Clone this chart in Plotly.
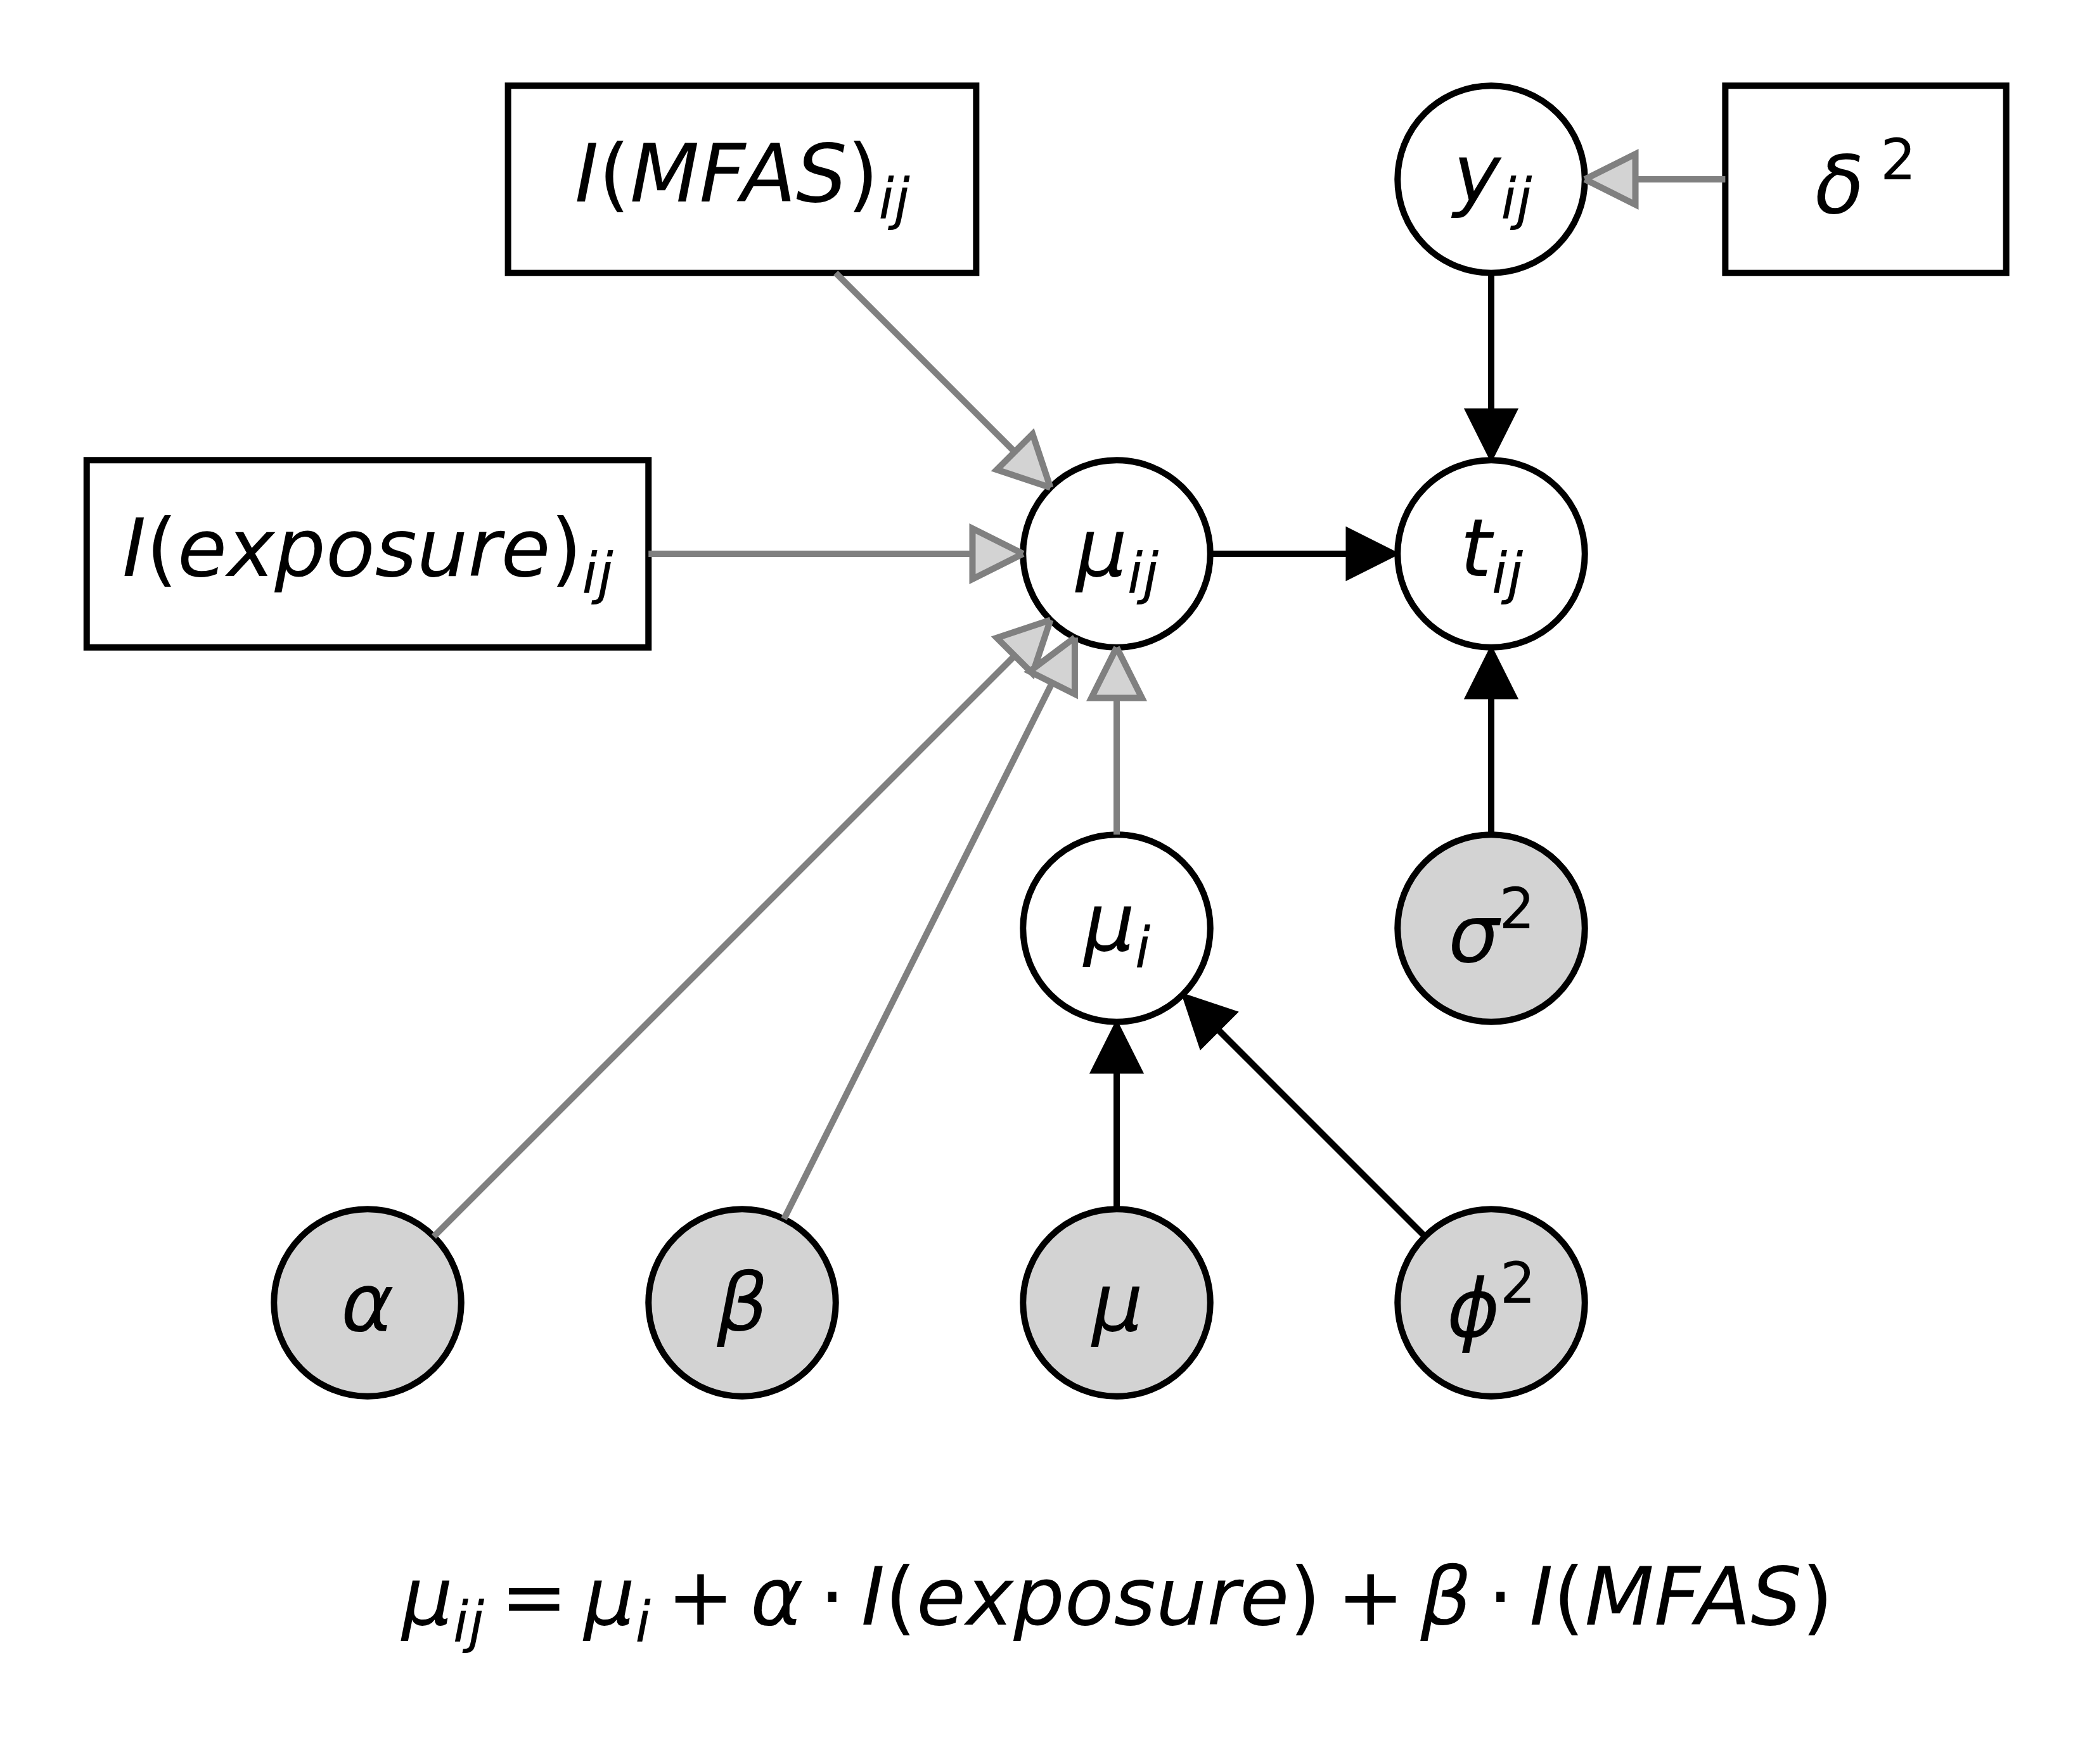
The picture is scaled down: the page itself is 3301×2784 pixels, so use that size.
import numpy as np
import plotly.graph_objects as go

# nodes of the model (grid units: column, row measured downwards as negative)
node_ids = ["mfas", "exposure", "y", "delta2", "mu_ij", "t", "mu_i", "sigma2",
            "alpha", "beta", "mu", "phi2"]
node_labels = [
    "<i>I</i>(<i>MFAS</i>)<sub><i>ij</i></sub>",
    "<i>I</i>(<i>exposure</i>)<sub><i>ij</i></sub>",
    "<i>y</i><sub><i>ij</i></sub>",
    "<i>δ</i>\u2009<sup>2</sup>",
    "<i>μ</i><sub><i>ij</i></sub>",
    "<i>t</i><sub><i>ij</i></sub>",
    "<i>μ</i><sub><i>i</i></sub>",
    "<i>σ</i><sup>2</sup>",
    "<i>α</i>",
    "<i>β</i>",
    "<i>μ</i>",
    "<i>ϕ</i><sup>2</sup>",
]
node_col = [2, 1, 4, 5, 3, 4, 3, 4, 1, 2, 3, 4]
node_row = [0, -1, 0, 0, -1, -1, -2, -2, -3, -3, -3, -3]
node_kind = ["fixed", "fixed", "latent", "fixed", "latent", "latent", "latent",
             "observed", "observed", "observed", "observed", "observed"]

# edges: source, target, kind
edge_src = ["mfas", "exposure", "alpha", "beta", "mu_i", "mu_ij", "y", "sigma2",
            "mu", "phi2", "delta2"]
edge_dst = ["mu_ij", "mu_ij", "mu_ij", "mu_ij", "mu_ij", "t", "t", "t",
            "mu_i", "mu_i", "y"]
edge_kind = ["det", "det", "det", "det", "det", "stoch", "stoch", "stoch",
             "stoch", "stoch", "det"]

sp = "\u2009"
formula = (f"<i>μ</i><sub><i>ij</i></sub>{sp}={sp}<i>μ</i><sub><i>i</i></sub>{sp}+{sp}<i>α</i>{sp}·{sp}"
           f"<i>I</i>(<i>exposure</i>){sp}+{sp}<i>β</i>{sp}·{sp}<i>I</i>(<i>MFAS</i>)")

# ---- styling ----
W, H = 3301, 2784
PAGE_PAD = 8  # default body margin of the html page
UNIT = 591.0
X0_PX, Y0_PX = 580.0, 283.0  # page pixel of column 1 / row 0
R = 0.25
BOX_W = {"mfas": 1.25, "exposure": 1.5, "delta2": 0.75}
BOX_H = 0.5
FONT = "DejaVu Sans"
FS = 127
LW = 10
HEAD_L = 0.135
HEAD_W = 0.135

pos = {n: np.array([c, r], dtype=float) for n, c, r in zip(node_ids, node_col, node_row)}
kind = dict(zip(node_ids, node_kind))


def boundary(name, d):
    if kind[name] == "fixed":
        a, b = BOX_W[name] / 2, BOX_H / 2
        t = min(a / abs(d[0]) if abs(d[0]) > 1e-9 else 1e9,
                b / abs(d[1]) if abs(d[1]) > 1e-9 else 1e9)
        return pos[name] + t * d
    return pos[name] + R * d


fig = go.Figure()
shapes = []
for n in node_ids:
    cx, cy = pos[n]
    if kind[n] == "fixed":
        w = BOX_W[n] / 2
        shapes.append(dict(type="rect", xref="x", yref="y", x0=cx - w, x1=cx + w,
                           y0=cy - BOX_H / 2, y1=cy + BOX_H / 2, layer="below",
                           fillcolor="white", line=dict(color="black", width=LW)))
    else:
        fill = "#d3d3d3" if kind[n] == "observed" else "white"
        shapes.append(dict(type="circle", xref="x", yref="y", x0=cx - R, x1=cx + R,
                           y0=cy - R, y1=cy + R, layer="below",
                           fillcolor=fill, line=dict(color="black", width=LW)))

for s, t, k in zip(edge_src, edge_dst, edge_kind):
    d = pos[t] - pos[s]
    d = d / np.linalg.norm(d)
    p0 = boundary(s, d)
    tip = boundary(t, -d)
    base = tip - HEAD_L * d
    nrm = np.array([-d[1], d[0]])
    c1 = base + HEAD_W / 2 * nrm
    c2 = base - HEAD_W / 2 * nrm
    if k == "det":
        lc, hf, hl = "#808080", "#d3d3d3", LW
    else:
        lc, hf, hl = "black", "black", 4
    fig.add_trace(go.Scatter(x=[p0[0], base[0]], y=[p0[1], base[1]], mode="lines",
                             line=dict(color=lc, width=LW), hoverinfo="skip",
                             showlegend=False))
    fig.add_trace(go.Scatter(x=[tip[0], c1[0], c2[0], tip[0]],
                             y=[tip[1], c1[1], c2[1], tip[1]], mode="lines",
                             fill="toself", fillcolor=hf,
                             line=dict(color=lc, width=hl), hoverinfo="skip",
                             showlegend=False))

annotations = []
for n, lab in zip(node_ids, node_labels):
    annotations.append(dict(x=pos[n][0], y=pos[n][1], xref="x", yref="y", text=lab,
                            showarrow=False, xanchor="center", yanchor="middle",
                            font=dict(family=FONT, size=FS, color="black")))
annotations.append(dict(x=3.0, y=-3.8, xref="x", yref="y", text=formula,
                        showarrow=False, xanchor="center", yanchor="middle",
                        font=dict(family=FONT, size=FS, color="black")))

# figure is shifted by the page padding, so shift the ranges to match
fw, fh = W - 2 * PAGE_PAD, H - 2 * PAGE_PAD
x_lo = 1 + (PAGE_PAD - X0_PX) / UNIT
x_hi = 1 + (PAGE_PAD + fw - X0_PX) / UNIT
y_hi = (Y0_PX - PAGE_PAD) / UNIT
y_lo = -(PAGE_PAD + fh - Y0_PX) / UNIT

fig.update_layout(
    width=fw, height=fh, autosize=False,
    margin=dict(l=0, r=0, t=0, b=0),
    paper_bgcolor="white", plot_bgcolor="white",
    shapes=shapes, annotations=annotations,
    xaxis=dict(range=[x_lo, x_hi], visible=False, fixedrange=True),
    yaxis=dict(range=[y_lo, y_hi], visible=False, fixedrange=True),
)

fig.write_html("out.html")
